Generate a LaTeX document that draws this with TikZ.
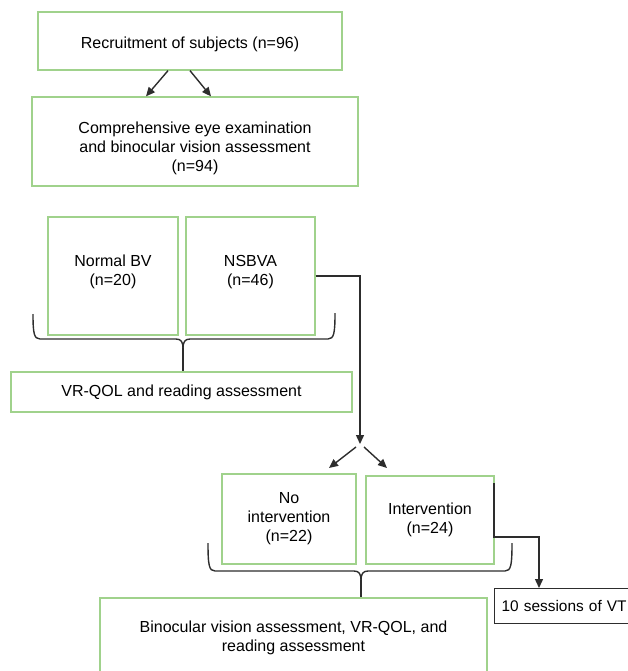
\documentclass[tikz,border=0pt]{standalone}
\usepackage{fontspec}
\setmainfont{Liberation Sans}
\usetikzlibrary{arrows.meta}
\definecolor{boxgreen}{RGB}{160,210,140}
\definecolor{linegray}{RGB}{45,45,45}
\newcommand{\mltext}[2]{\raisebox{#1}[\height][\depth]{\begin{tabular}{@{}c@{}}#2\end{tabular}}}
\begin{document}
\begin{tikzpicture}[x=1pt,y=-1pt,
  txt/.style={font=\fontsize{16}{19}\selectfont},
  gbox/.style={draw=boxgreen, line width=1.3pt, align=center, inner sep=0pt, txt},
  kbox/.style={draw=linegray, line width=1.3pt, inner sep=0pt, font=\fontsize{15.4}{19}\selectfont},
  conn/.style={draw=linegray, line width=1.4pt},
  arr/.style={conn, -{Triangle[length=9pt,width=8pt]}},
  brace/.style={draw=linegray, line width=1.4pt, line join=round}]
\useasboundingbox (0,0) rectangle (628,671);
\clip (0,0) rectangle (628,671);

% boxes
\node[gbox, minimum width=304pt, minimum height=58pt] (rec) at (190,41) {\mltext{-3.5pt}{Recruitment of subjects (n=96)}};
\node[gbox, minimum width=326pt, minimum height=89pt] (comp) at (195,141.5) {\mltext{-7pt}{Comprehensive eye examination\\and binocular vision assessment\\(n=94)}};
\node[gbox, minimum width=130pt, minimum height=118pt] (nbv) at (113,276) {\mltext{4pt}{Normal BV\\(n=20)}};
\node[gbox, minimum width=129pt, minimum height=118pt] (nsb) at (250.5,276) {\mltext{4pt}{NSBVA\\(n=46)}};
\node[gbox, minimum width=341pt, minimum height=40pt] (vr) at (181.5,392) {VR-QOL and reading assessment};
\node[gbox, minimum width=134pt, minimum height=90pt] (noi) at (289,519) {No\\intervention\\(n=22)};
\node[gbox, minimum width=128pt, minimum height=88pt] (int) at (430,520) {Intervention\\(n=24)};
\node[gbox, minimum width=387pt, minimum height=79pt] (bot) at (293.5,637.5) {Binocular vision assessment, VR-QOL, and\\reading assessment};
\node[kbox, anchor=north west, minimum height=35pt, text width=130pt, inner xsep=7pt, align=left] (vt) at (494,588) {10 sessions of VT};

% top split arrows
\draw[arr] ([xshift=-22pt]rec.south) -- ([xshift=-49pt]comp.north);
\draw[arr] (rec.south) -- ([xshift=16pt]comp.north);

% NSBVA to split
\coordinate (sp) at (360,444);
\draw[arr] (nsb.east) -| (sp);
\coordinate (t1) at (329,468);
\coordinate (t2) at (387,468);
\draw[arr] ([shift={(-4,3)}]sp) -- (t1);
\draw[arr] ([shift={(4,3)}]sp) -- (t2);

% intervention to VT
\coordinate (c1) at (494,483);
\coordinate (c2) at (539,537);
\draw[arr] (c1) |- (c2) -- (c2 |- vt.north);

% brace 1
\coordinate (b1m) at (183,348);
\draw[brace] (33,314) .. controls (33,333) and (34,339) .. (40,339) -- (176,339) .. controls (181,339) and (183,342) .. (b1m);
\draw[brace] (335,313) .. controls (335,333) and (334,339) .. (328,339) -- (190,339) .. controls (185,339) and (183,342) .. (b1m);
\draw[brace] (b1m) -- (b1m |- vr.north);

% brace 2
\coordinate (b2m) at (361,580);
\draw[brace] (208,543) .. controls (208,565) and (209,571) .. (215,571) -- (354,571) .. controls (359,571) and (361,574) .. (b2m);
\draw[brace] (512,543) .. controls (512,565) and (511,571) .. (505,571) -- (368,571) .. controls (363,571) and (361,574) .. (b2m);
\draw[brace] (b2m) -- (b2m |- bot.north);
\end{tikzpicture}
\end{document}
